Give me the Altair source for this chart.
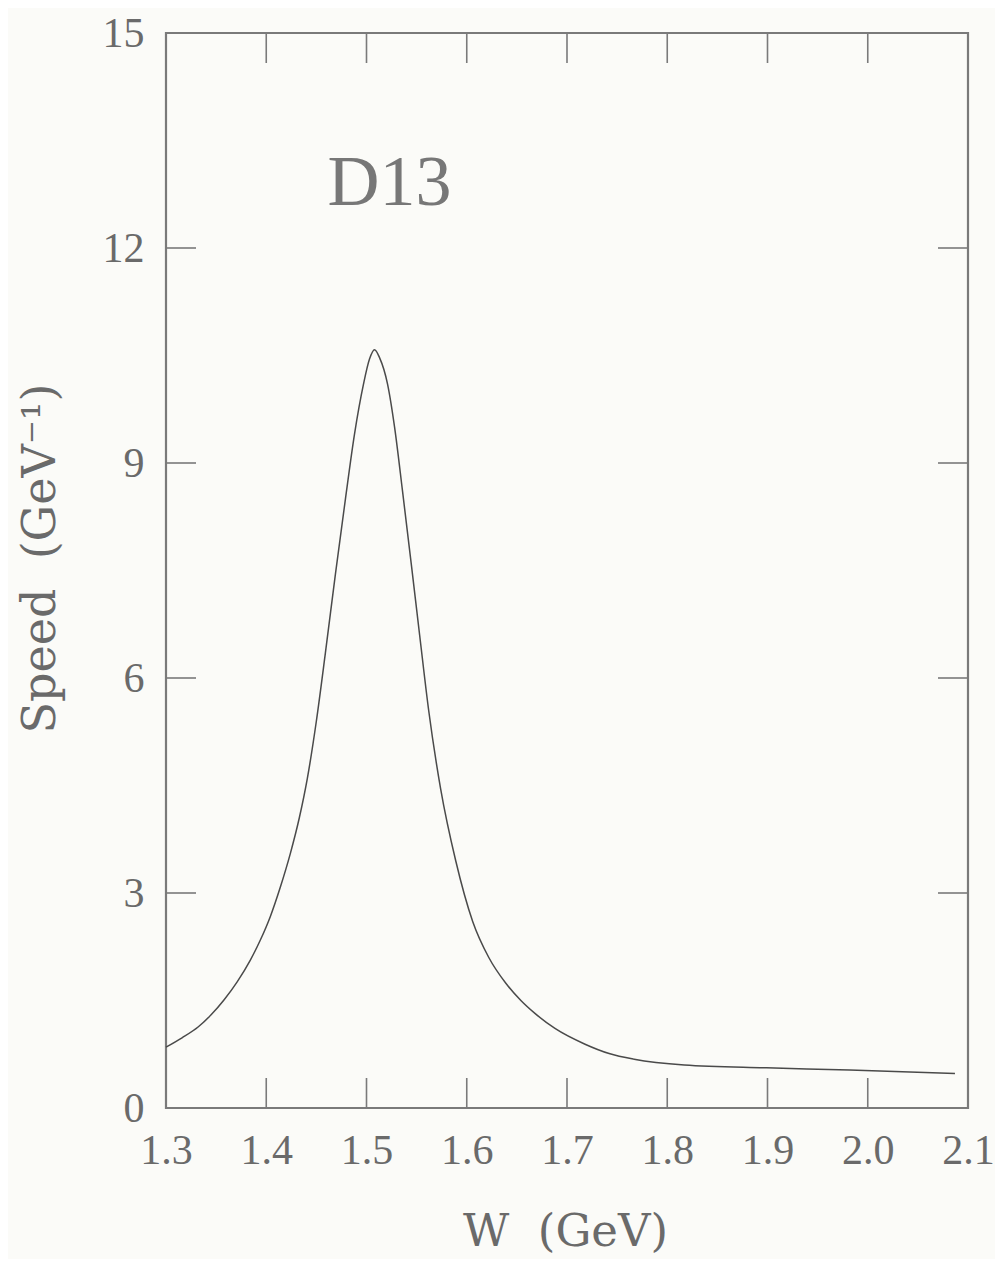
import altair as alt
import pandas as pd

# Curve
W = [1.300, 1.316, 1.332, 1.345, 1.358, 1.371, 1.384, 1.394, 1.404, 1.414, 1.424,
     1.433, 1.441, 1.450, 1.459, 1.469, 1.479, 1.488, 1.497, 1.503, 1.508, 1.513,
     1.521, 1.528, 1.536, 1.545, 1.553, 1.562, 1.574, 1.589, 1.606, 1.622, 1.639,
     1.654, 1.668, 1.688, 1.718, 1.742, 1.767, 1.817, 1.899, 1.982, 2.087]
SPEED = [0.85, 0.98, 1.13, 1.30, 1.51, 1.76, 2.06, 2.34, 2.67, 3.08, 3.55,
         4.05, 4.60, 5.40, 6.35, 7.45, 8.50, 9.40, 10.10, 10.45, 10.58, 10.47,
         10.10, 9.50, 8.60, 7.55, 6.60, 5.55, 4.45, 3.45, 2.60, 2.10, 1.74,
         1.50, 1.32, 1.11, 0.89, 0.76, 0.68, 0.60, 0.56, 0.53, 0.48]

X_LABELS = [1.3, 1.4, 1.5, 1.6, 1.7, 1.8, 1.9, 2.0, 2.1]
Y_LABELS = [0, 3, 6, 9, 12, 15]
X_TICKS = [1.4, 1.5, 1.6, 1.7, 1.8, 1.9, 2.0]
Y_TICKS = [3, 6, 9, 12]

LABEL_TEXT = ["D13"]
LABEL_X = [1.523]
LABEL_Y = [12.6]

PW, PH = 802, 1075
FONT = "Liberation Serif"
TFONT = "DejaVu Serif"
GRAY = "#6a6a6a"
FRAME = "#7a7a7a"
TL = 30

xs = alt.Scale(domain=[1.3, 2.1], nice=False, zero=False)
ys = alt.Scale(domain=[0, 15], nice=False, zero=False)

xaxis = alt.Axis(values=X_LABELS, format=".1f", title="W\u00a0\u00a0(GeV)",
                 ticks=False, domain=False, labelPadding=22, labelFlush=False, grid=False,
                 titleX=399, titleY=137, titleBaseline="alphabetic", titleAlign="center",
                 titleFontSize=45)
yaxis = alt.Axis(values=Y_LABELS, format="d", title="Speed\u00a0\u00a0(GeV\u207b\u00b9)",
                 ticks=False, domain=False, labelPadding=22, labelFlush=False, grid=False,
                 titleX=-112, titleY=525, titleAngle=270, titleBaseline="alphabetic",
                 titleAlign="center")

curve_df = pd.DataFrame({"W": W, "S": SPEED})
xt_df = pd.DataFrame({"W": X_TICKS})
yt_df = pd.DataFrame({"S": Y_TICKS})
lab_df = pd.DataFrame({"W": LABEL_X, "S": LABEL_Y, "txt": LABEL_TEXT})

curve = alt.Chart(curve_df).mark_line(color="#4a4a4a", strokeWidth=1.5, interpolate="monotone").encode(
    x=alt.X("W:Q", scale=xs, axis=xaxis),
    y=alt.Y("S:Q", scale=ys, axis=yaxis),
)

bottom = alt.Chart(xt_df).mark_rule(color=FRAME, strokeWidth=1.6).encode(
    x=alt.X("W:Q", scale=xs, axis=xaxis), y=alt.value(PH), y2=alt.value(PH - TL))
top = alt.Chart(xt_df).mark_rule(color=FRAME, strokeWidth=1.6).encode(
    x=alt.X("W:Q", scale=xs, axis=xaxis), y=alt.value(0), y2=alt.value(TL))
left = alt.Chart(yt_df).mark_rule(color=FRAME, strokeWidth=1.6).encode(
    y=alt.Y("S:Q", scale=ys, axis=yaxis), x=alt.value(0), x2=alt.value(TL))
right = alt.Chart(yt_df).mark_rule(color=FRAME, strokeWidth=1.6).encode(
    y=alt.Y("S:Q", scale=ys, axis=yaxis), x=alt.value(PW), x2=alt.value(PW - TL))

label = alt.Chart(lab_df).mark_text(font=FONT, fontSize=72, color="#777777",
                                    align="center", baseline="alphabetic").encode(
    x=alt.X("W:Q", scale=xs, axis=xaxis), y=alt.Y("S:Q", scale=ys, axis=yaxis), text="txt:N")

chart = alt.layer(curve, bottom, top, left, right, label).properties(
    width=PW, height=PH,
    autosize="none",
    padding={"left": 158, "top": 25, "right": 27, "bottom": 151},
    background="#fbfbf8",
).configure_view(
    stroke=FRAME, strokeWidth=2.2
).configure_axis(
    labelFont=FONT, labelFontSize=42, labelColor=GRAY,
    titleFont=TFONT, titleFontSize=46, titleColor=GRAY, titleFontWeight="normal",
)

chart.save("out.html", embed_options={"renderer": "svg", "actions": False})
